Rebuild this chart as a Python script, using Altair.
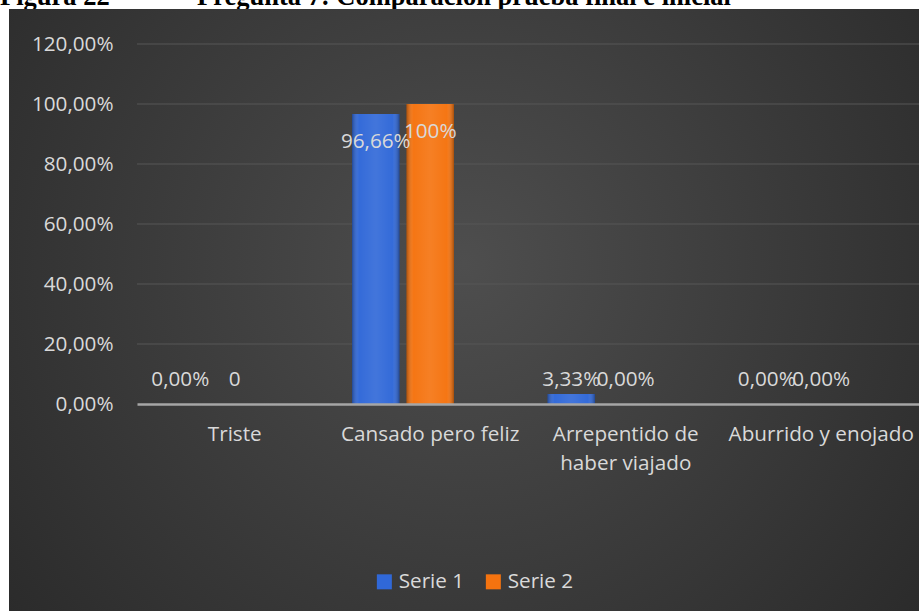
import altair as alt
import pandas as pd

categories = ["Triste", "Cansado pero feliz", "Arrepentido de haber viajado", "Aburrido y enojado"]
series_names = ["Serie 1", "Serie 2"]
slot_names = ["Serie 1", "Serie 2", "Serie 3"]  # third slot is empty in the original chart
serie1 = [0.0, 0.9666, 0.0333, 0.0]
serie2 = [0.0, 1.0, 0.0, 0.0]
labels1 = ["0,00%", "96,66%", "3,33%", "0,00%"]
labels2 = ["0", "100%", "0,00%", "0,00%"]
colors = ["#3068d8", "#f5730f"]
y_ticks = [0, 0.2, 0.4, 0.6, 0.8, 1.0, 1.2]
title_a = "Figura 22"
title_b = "Pregunta 7: Comparación prueba final e inicial"

rows = []
for i, c in enumerate(categories):
    rows.append({"cat": c, "serie": "Serie 1", "value": serie1[i], "label": labels1[i]})
    rows.append({"cat": c, "serie": "Serie 2", "value": serie2[i], "label": labels2[i]})
df = pd.DataFrame(rows)

W, H = 782, 360
PAD = {"left": 137, "top": 44, "right": 0, "bottom": 207}
FONT = "Open Sans"
FS = 20.7
TXT = "#d9d9d9"

x_enc = alt.X(
    "cat:N", sort=categories,
    scale=alt.Scale(paddingInner=0.164, paddingOuter=0.082),
    axis=alt.Axis(
        title=None, labelAngle=0, labelFont=FONT, labelFontSize=FS, labelColor=TXT,
        labelPadding=20, ticks=False, domainColor="#a6a6a6", domainWidth=2.5,
        labelLineHeight=29, zindex=1, grid=False, labelLimit=400,
        labelExpr="datum.value == 'Arrepentido de haber viajado' ? ['Arrepentido de', 'haber viajado'] : datum.label",
    ),
)
xoff_enc = alt.XOffset("serie:N", scale=alt.Scale(domain=slot_names, paddingInner=0.128, paddingOuter=0.064))
y_axis = alt.Axis(
    values=y_ticks, title=None, grid=False, ticks=False, domain=False,
    labelExpr="replace(format(datum.value, '.2%'), '.', ',')",
    labelFont=FONT, labelFontSize=FS, labelColor=TXT, labelPadding=24, zindex=1,
)
y_scale = alt.Scale(domain=[0, 1.2])

title_layer_a = alt.Chart(pd.DataFrame({"t": [title_a]})).mark_text(
    font="Liberation Serif", fontWeight="bold", fontSize=26.5, color="#000000",
    align="left", baseline="alphabetic"
).encode(x=alt.value(-137), y=alt.value(-39), text="t:N")
title_layer_b = alt.Chart(pd.DataFrame({"t": [title_b]})).mark_text(
    font="Liberation Serif", fontWeight="bold", fontSize=26.5, color="#000000",
    align="left", baseline="alphabetic"
).encode(x=alt.value(60), y=alt.value(-39), text="t:N")

bg_grad = {
    "gradient": "radial", "x1": 0.5, "y1": 0.45, "r1": 0, "x2": 0.5, "y2": 0.45, "r2": 0.72,
    "stops": [{"offset": 0, "color": "#4e4e4e"}, {"offset": 1, "color": "#262626"}],
}
bg = alt.Chart(pd.DataFrame({"k": [0]})).mark_rect(fill=bg_grad).encode(
    x=alt.value(-128), x2=alt.value(782), y=alt.value(-35), y2=alt.value(567)
)

grid = alt.Chart(pd.DataFrame({"t": y_ticks[1:]})).mark_rule(color="#575757", strokeWidth=1).encode(
    y=alt.Y("t:Q", scale=y_scale, axis=y_axis)
)

base = alt.Chart(df)
bars = base.mark_bar().encode(
    x=x_enc, xOffset=xoff_enc,
    y=alt.Y("value:Q", scale=y_scale, axis=y_axis),
    color=alt.Color(
        "serie:N", scale=alt.Scale(domain=series_names, range=colors),
        legend=alt.Legend(
            title=None, orient="none", legendX=237, legendY=527, direction="horizontal",
            symbolType="square", symbolSize=225, symbolStrokeWidth=0, labelFont=FONT,
            labelFontSize=FS, labelColor=TXT, columnPadding=18, labelOffset=4,
        ),
    ),
)

gloss_grad = {
    "gradient": "linear", "x1": 0, "y1": 0, "x2": 1, "y2": 0,
    "stops": [
        {"offset": 0, "color": "rgba(0,0,0,0.30)"},
        {"offset": 0.15, "color": "rgba(255,255,255,0.02)"},
        {"offset": 0.5, "color": "rgba(255,255,255,0.09)"},
        {"offset": 0.85, "color": "rgba(255,255,255,0.02)"},
        {"offset": 1, "color": "rgba(0,0,0,0.32)"},
    ],
}
gloss = base.mark_bar(fill=gloss_grad).encode(
    x=x_enc, xOffset=xoff_enc, y=alt.Y("value:Q", scale=y_scale, axis=y_axis)
)

labels_big = base.transform_filter("datum.value > 0.5").mark_text(
    font=FONT, fontSize=FS, color=TXT, baseline="middle", dy=28
).encode(x=x_enc, xOffset=xoff_enc, y=alt.Y("value:Q", scale=y_scale, axis=y_axis), text="label:N")

labels_small = base.transform_filter("datum.value <= 0.5").mark_text(
    font=FONT, fontSize=FS, color=TXT, baseline="middle", dy=-24
).encode(x=x_enc, xOffset=xoff_enc, y=alt.datum(0), text="label:N")

chart = alt.layer(
    title_layer_a, title_layer_b, bg, grid, bars, gloss, labels_big, labels_small
).properties(
    width=W, height=H, padding=PAD, autosize=alt.AutoSizeParams(type="none"), background="#ffffff"
).configure_view(stroke=None)

chart.save("out.html", embed_options={"renderer": "svg", "actions": False})
